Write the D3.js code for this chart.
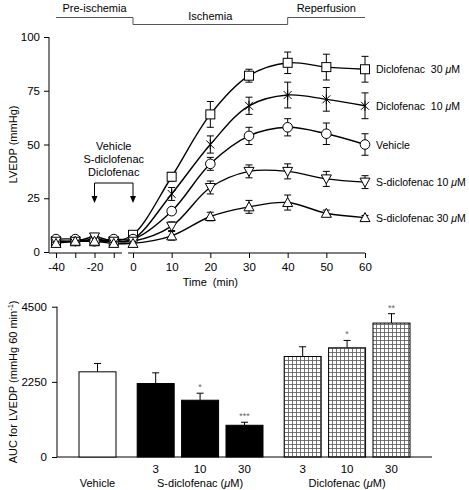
<!DOCTYPE html>
<html><head><meta charset="utf-8">
<script src="https://cdn.jsdelivr.net/npm/d3@7"></script>
<style>body{margin:0;background:#fff}svg{font-family:"Liberation Sans",Arial,sans-serif}text{white-space:pre}</style>
</head><body><svg id="c" width="469" height="490"></svg>
<script>
// ---- Top panel data ----
const times = [-40, -30, -20, -10, 0, 10, 20, 30, 40, 50, 60];
const dic30 = [5, 5, 5, 5, 8, 35, 64, 82, 88, 86, 85];
const dic30Err = [1, 1, 1, 1, 1, 2, 6, 3, 5, 6, 6];
const dic10 = [5, 5, 6, 5, 6, 27, 50, 68, 73, 71, 68];
const dic10Err = [1, 1, 1, 1, 1, 3, 4, 4, 6, 5.5, 6];
const vehicle = [6, 6, 5, 6, 6, 19, 41, 54, 58, 55, 50];
const vehicleErr = [1, 1, 1, 1, 1, 1.5, 3, 4, 4, 5, 5];
const sdic10 = [5, 5, 7, 5, 5, 12, 30, 37.5, 37.5, 34, 32.5];
const sdic10Err = [1, 1, 1, 1, 1, 2, 3, 3, 3.5, 3.5, 3];
const sdic30 = [4, 5, 5, 4, 4, 7.5, 16.5, 21, 23, 18, 16];
const sdic30Err = [1, 1, 1, 1, 1, 2, 2, 3, 3.5, 1.5, 1];
const seriesNames = ["Diclofenac  30 \u03bcM", "Diclofenac  10 \u03bcM", "Vehicle", "S-diclofenac 10 \u03bcM", "S-diclofenac 30 \u03bcM"];
const seriesMarkers = ["square", "asterisk", "circle", "tridown", "triup"];
const yTicksTop = [0, 25, 50, 75, 100];
const xTicksTop = [-40, -30, -20, -10, 0, 10, 20, 30, 40, 50, 60];
const xTickLabelsTop = [-40, -20, 0, 10, 20, 30, 40, 50, 60];

// ---- Bottom panel data ----
const barLabels = ["Vehicle", "3", "10", "30", "3", "10", "30"];
const barGroups = [0, 1, 1, 1, 2, 2, 2];
const aucValues = [2550, 2200, 1700, 950, 3010, 3270, 4010];
const aucErr = [250, 320, 210, 90, 290, 220, 280];
const aucSig = ["", "", "*", "***", "", "*", "**"];
const yTicksBottom = [0, 2250, 4500];
const groupTitles = ["Vehicle", "S-diclofenac (\u03bcM)", "Diclofenac (\u03bcM)"];

const svg = d3.select("#c");
const font = 11;

// ================= TOP PANEL =================
const x = d3.scaleLinear().domain([-40, 0, 60]).range([56, 133, 365]);
const y = d3.scaleLinear().domain([0, 100]).range([252, 37]);
const gTop = svg.append("g");

// phase bar
const phase = gTop.append("g").attr("stroke", "#555").attr("fill", "none").attr("stroke-width", 1);
phase.append("path").attr("d", `M${x(-40)},17.5H${x(0)}V24.5H${x(40)}V17.5H${x(60)}`);
gTop.append("text").attr("x", (x(-40)+x(0))/2).attr("y", 12).attr("text-anchor","middle").attr("font-size",font).text("Pre-ischemia");
gTop.append("text").attr("x", (x(0)+x(40))/2).attr("y", 20).attr("text-anchor","middle").attr("font-size",font).text("Ischemia");
gTop.append("text").attr("x", (x(40)+x(60))/2).attr("y", 12).attr("text-anchor","middle").attr("font-size",font).text("Reperfusion");

// y axis
const yAx = gTop.append("g").attr("transform", "translate(49,0)")
  .call(d3.axisLeft(y).tickValues(yTicksTop).tickSize(5).tickPadding(4));
yAx.select(".domain").attr("d", `M0,${y(100)}V${y(0)}`);
yAx.selectAll("text").attr("font-size", 11.5).attr("font-family", "Liberation Sans, Arial");

// x axis with break
const xAx = gTop.append("g").attr("transform", "translate(0,253)")
  .call(d3.axisBottom(x).tickValues(xTicksTop).tickSize(5).tickPadding(5)
    .tickFormat(d => xTickLabelsTop.includes(d) ? d : ""));
xAx.select(".domain").attr("d", `M49,0H122M128,0H${x(60)}`);
xAx.selectAll("text").attr("font-size", 11.5).attr("font-family", "Liberation Sans, Arial");
gTop.append("text").attr("x", x(20)).attr("y", 286).attr("text-anchor","middle").attr("font-size",font).text("Time  (min)");
gTop.append("text").attr("transform", `translate(17,${y(50)}) rotate(-90)`).attr("text-anchor","middle").attr("font-size",font).text("LVEDP (mmHg)");

// annotation
const ann = gTop.append("g");
["Vehicle", "S-diclofenac", "Diclofenac"].forEach((t, i) => {
  ann.append("text").attr("x", (x(-20)+x(0))/2).attr("y", 150 + i*13).attr("text-anchor","middle").attr("font-size",font).text(t);
});
ann.append("path").attr("d", `M${x(-20)},197V183H${x(0)}V197`).attr("fill","none").attr("stroke","#000");
[x(-20), x(0)].forEach(px => {
  ann.append("path").attr("d", `M${px-3},196L${px+3},196L${px},203Z`).attr("fill","#000");
});

const series = [
  {v: dic30, e: dic30Err}, {v: dic10, e: dic10Err}, {v: vehicle, e: vehicleErr},
  {v: sdic10, e: sdic10Err}, {v: sdic30, e: sdic30Err}
];
const line = d3.line().x((d, i) => x(times[i])).y(d => y(d)).curve(d3.curveCatmullRom.alpha(0.5));

// error bars
series.forEach(s => {
  const g = gTop.append("g").attr("stroke", "#000").attr("stroke-width", 1);
  s.v.forEach((v, i) => {
    if (times[i] <= 0) return;
    const px = x(times[i]);
    g.append("path").attr("d", `M${px},${y(v+s.e[i])}V${y(v-s.e[i])}M${px-3.5},${y(v+s.e[i])}H${px+3.5}M${px-3.5},${y(v-s.e[i])}H${px+3.5}`);
  });
});
// lines
series.forEach(s => {
  gTop.append("path").attr("d", line(s.v)).attr("fill", "none").attr("stroke", "#000").attr("stroke-width", 1.4);
});
// markers
function marker(g, type, px, py) {
  const st = {fill: "#fff", stroke: "#000", "stroke-width": 1};
  let el;
  if (type === "square") el = g.append("rect").attr("x", px-4.5).attr("y", py-4.5).attr("width", 9).attr("height", 9);
  else if (type === "circle") el = g.append("circle").attr("cx", px).attr("cy", py).attr("r", 4.8);
  else if (type === "triup") el = g.append("path").attr("d", `M${px},${py-5}L${px+5},${py+4}L${px-5},${py+4}Z`);
  else if (type === "tridown") el = g.append("path").attr("d", `M${px},${py+5}L${px+5},${py-4}L${px-5},${py-4}Z`);
  else if (type === "asterisk") {
    el = g.append("path").attr("d", `M${px-4},${py-4}L${px+4},${py+4}M${px-4},${py+4}L${px+4},${py-4}M${px},${py-5}V${py+5}`);
    st.fill = "none";
  }
  Object.entries(st).forEach(([k, v]) => el.attr(k, v));
}
series.forEach((s, si) => {
  const g = gTop.append("g");
  s.v.forEach((v, i) => marker(g, seriesMarkers[si], x(times[i]), y(v)));
});
// legend labels at end
series.forEach((s, si) => {
  const t = gTop.append("text").attr("x", 376).attr("y", y(s.v[s.v.length-1]) + 4).attr("font-size", 10.5);
  const parts = seriesNames[si].split("\u03bc");
  t.append("tspan").text(parts[0]);
  if (parts.length > 1) {
    t.append("tspan").attr("font-style", "italic").text("\u03bc");
    t.append("tspan").text(parts[1]);
  }
});

// ================= BOTTOM PANEL =================
const slotPos = barGroups.map((g, i) => i + g * 0.31);
const xb = d3.scaleLinear().domain([0, 6.62]).range([97.5, 391.5]);
const yb = d3.scaleLinear().domain([0, 4500]).range([457, 306.7]);
const bw = 37;
const bot = svg.append("g");

const defs = svg.append("defs");
const pat = defs.append("pattern").attr("id", "hatch").attr("patternUnits", "userSpaceOnUse")
  .attr("width", 4).attr("height", 4);
pat.append("rect").attr("width", 4).attr("height", 4).attr("fill", "#fff");
pat.append("path").attr("d", "M0,0.5H4M0.5,0V4").attr("stroke", "#666").attr("stroke-width", 0.9);

const ybAx = bot.append("g").attr("transform", "translate(57,0)")
  .call(d3.axisLeft(yb).tickValues(yTicksBottom).tickSize(5).tickPadding(5).tickFormat(d3.format("d")));
ybAx.select(".domain").attr("d", `M0,${yb(4500)}V${yb(0)}`);
ybAx.selectAll("text").attr("font-size", 11.5).attr("font-family", "Liberation Sans, Arial");
bot.append("path").attr("d", `M57,${yb(0)}H432`).attr("stroke", "#000");

aucValues.forEach((v, i) => {
  const cx = xb(slotPos[i]);
  const fill = barGroups[i] === 0 ? "#fff" : barGroups[i] === 1 ? "#000" : "url(#hatch)";
  bot.append("path").attr("d", `M${cx},${yb(v)}V${yb(v+aucErr[i])}M${cx-3.5},${yb(v+aucErr[i])}H${cx+3.5}`)
    .attr("stroke", "#000");
  bot.append("rect").attr("x", cx - bw/2).attr("y", yb(v)).attr("width", bw).attr("height", yb(0) - yb(v))
    .attr("fill", fill).attr("stroke", "#000").attr("stroke-width", 1);
  if (aucSig[i]) {
    bot.append("text").attr("x", cx).attr("y", yb(v+aucErr[i]) - 3).attr("text-anchor", "middle")
      .attr("font-size", 9).attr("fill", "#666").text(aucSig[i]);
  }
  if (barGroups[i] > 0) {
    bot.append("text").attr("x", cx).attr("y", 473).attr("text-anchor", "middle").attr("font-size", 11.5).text(barLabels[i]);
  }
});
// group titles
const groupCenters = [0, 1, 2].map(g => {
  const idx = barGroups.map((b, i) => b === g ? i : -1).filter(i => i >= 0);
  return d3.mean(idx, i => xb(slotPos[i]));
});
groupTitles.forEach((t, g) => {
  const tx = bot.append("text").attr("x", groupCenters[g]).attr("y", 487).attr("text-anchor", "middle").attr("font-size", font);
  const parts = t.split("\u03bc");
  tx.append("tspan").text(parts[0]);
  if (parts.length > 1) {
    tx.append("tspan").attr("font-style", "italic").text("\u03bc");
    tx.append("tspan").text(parts[1]);
  }
});
const yl = bot.append("text").attr("transform", `translate(17,${yb(2250)}) rotate(-90)`).attr("text-anchor", "middle").attr("font-size", 11);
yl.append("tspan").text("AUC for LVEDP (mmHg 60 min");
yl.append("tspan").attr("font-size", 7.5).attr("dy", -4).text("-1");
yl.append("tspan").attr("dy", 4).text(")");
</script></body></html>
